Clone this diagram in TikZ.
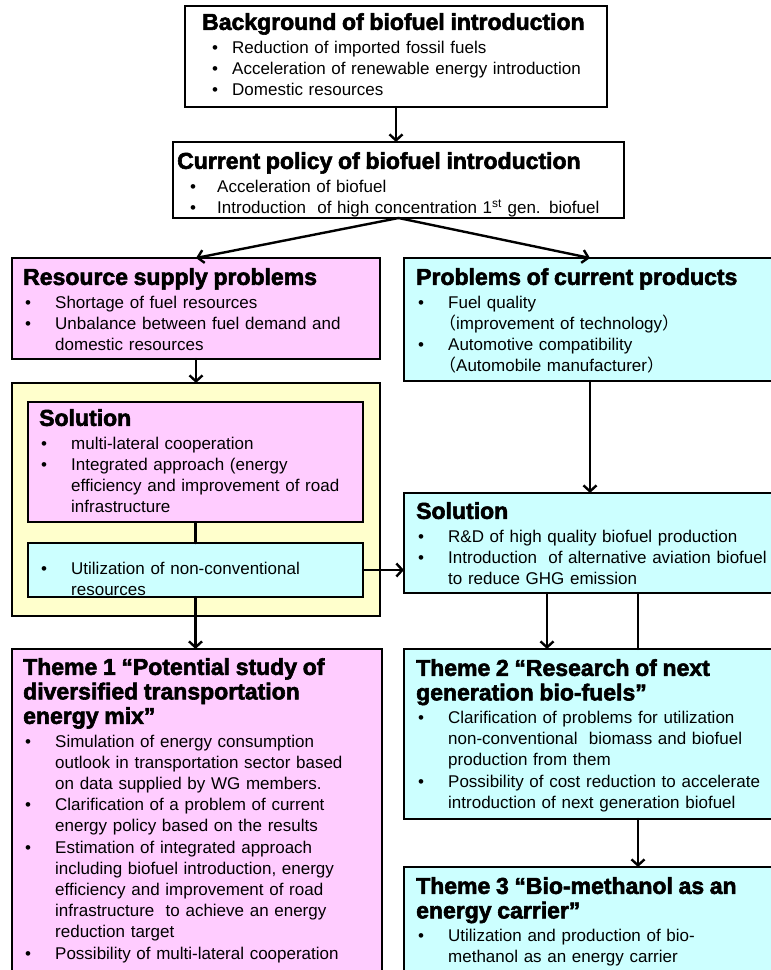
\documentclass[tikz,border=0pt]{standalone}
\usepackage{fontspec}
\setmainfont{Liberation Sans}
\newfontfamily\headfont[BoldFeatures={FakeBold=2.5}]{Liberation Sans}
\newfontfamily\cjk{Noto Sans CJK JP}
\usetikzlibrary{arrows.meta}

\definecolor{fenhong}{RGB}{255,204,255}
\definecolor{qingse}{RGB}{204,255,255}
\definecolor{danhuang}{RGB}{255,255,204}

\newcommand{\biaoti}[1]{{\headfont\bfseries\fontsize{23}{24.5}\selectfont #1\par}\vspace{2pt}}
\newcommand{\itm}[2][32pt]{\par\hangindent=#1\hangafter=1\noindent\makebox[#1][l]{\hspace{2pt}\textbullet}#2\par}
\newcommand{\kuohao}[1]{{\cjk\hspace*{-9pt}（}#1{\cjk ）}}

\begin{document}
\begin{tikzpicture}[x=1pt,y=-1pt,line cap=round]
	\tikzstyle{kuang}=[draw,line width=2.6pt,inner sep=0pt,outer sep=0pt,anchor=north west];
	\tikzstyle{bai}=[kuang,fill=white];
	\tikzstyle{fen}=[kuang,fill=fenhong];
	\tikzstyle{qing}=[kuang,fill=qingse];
	\tikzstyle{huang}=[kuang,fill=danhuang];
	\tikzstyle{wenzi}=[anchor=north west,inner sep=0pt,text width=600pt,align=left,font=\fontsize{17}{21.2}\selectfont];
	\tikzstyle{jian}=[line width=2.4pt,-{Straight Barb[length=6pt,width=13pt]}];
	\tikzstyle{xian}=[line width=2.4pt];

	\useasboundingbox (0,0) rectangle (771,970);

	% boxes
	\node[bai,minimum width=422pt,minimum height=101pt] (bg) at (185,6) {};
	\node[bai,minimum width=451pt,minimum height=76pt] (cp) at (173,142) {};
	\node[fen,minimum width=368pt,minimum height=101pt] (res) at (12,258) {};
	\node[qing,minimum width=372pt,minimum height=123pt] (prob) at (404,258) {};
	\node[huang,minimum width=368pt,minimum height=233pt] (yel) at (12,383) {};
	\node[fen,minimum width=335pt,minimum height=120pt] (sol1) at (28,402) {};
	\node[qing,minimum width=335pt,minimum height=54pt] (uti) at (28,543) {};
	\node[qing,minimum width=372pt,minimum height=100pt] (sol2) at (404,493) {};
	\node[fen,minimum width=370pt,minimum height=340pt] (th1) at (12,649) {};
	\node[qing,minimum width=372pt,minimum height=170pt] (th2) at (404,649) {};
	\node[qing,minimum width=372pt,minimum height=120pt] (th3) at (404,867) {};

	% texts
	\node[wenzi] (bgt) at (202,13) {\biaoti{Background of biofuel introduction}\leftskip=8pt
		\itm[22pt]{Reduction of imported fossil fuels}
		\itm[22pt]{Acceleration of renewable energy introduction}
		\itm[22pt]{Domestic resources}};
	\node[wenzi] (cpt) at (177,152) {\biaoti{Current policy of biofuel introduction}\leftskip=11pt
		\itm[29pt]{Acceleration of biofuel}
		\itm[29pt]{Introduction\ \ of high concentration 1\textsuperscript{st} gen. biofuel}};
	\node[wenzi] (rest) at (23,268) {\biaoti{Resource supply problems}
		\itm{Shortage of fuel resources}
		\itm{Unbalance between fuel demand and\newline domestic resources}};
	\node[wenzi] (probt) at (416,268) {\biaoti{Problems of current products}
		\itm{Fuel quality\newline \kuohao{improvement of technology}}
		\itm{Automotive compatibility\newline \kuohao{Automobile manufacturer}}};
	\node[wenzi] (sol1t) at (39,409) {\biaoti{Solution}
		\itm{multi-lateral cooperation}
		\itm{Integrated approach (energy\newline efficiency and improvement of road\newline infrastructure}};
	\node[wenzi] (utit) at (39,553) {\itm{Utilization of non-conventional\newline resources}};
	\node[wenzi] (sol2t) at (416,502) {\biaoti{Solution}
		\itm{R\&D of high quality biofuel production}
		\itm{Introduction\ \ of alternative aviation biofuel\newline to reduce GHG emission}};
	\node[wenzi] (th1t) at (23,658) {\biaoti{Theme 1 “Potential study of\\diversified transportation\\energy mix”}
		\itm{Simulation of energy consumption\newline outlook in transportation sector based\newline on data supplied by WG members.}
		\itm{Clarification of a problem of current\newline energy policy based on the results}
		\itm{Estimation of integrated approach\newline including biofuel introduction, energy\newline efficiency and improvement of road\newline infrastructure\ \ to achieve an energy\newline reduction target}
		\itm{Possibility of multi-lateral cooperation}};
	\node[wenzi] (th2t) at (416,659) {\biaoti{Theme 2 “Research of next\\generation bio-fuels”}
		\itm{Clarification of problems for utilization\newline non-conventional\ \ biomass and biofuel\newline production from them}
		\itm{Possibility of cost reduction to accelerate\newline introduction of next generation biofuel}};
	\node[wenzi] (th3t) at (416,877) {\biaoti{Theme 3 “Bio-methanol as an\\energy carrier”}
		\itm{Utilization and production of bio-\newline methanol as an energy carrier}};

	% arrows
	\draw[jian] (bg.south) -- (bg.south |- cp.north);
	\draw[jian] (cp.south) -- (res.north);
	\draw[jian] (cp.south) -- (prob.north);
	\draw[jian] (res.south) -- (yel.north);
	\draw[xian] (sol1.south) -- (uti.north);
	\draw[jian] (uti.south) -- (uti.south |- th1.north);
	\draw[jian] (uti.east) -- (sol2.west |- uti.east);
	\draw[jian] (prob.south) -- (sol2.north);
	\draw[jian] ([xshift=-43pt]sol2.south) -- ([xshift=-43pt]th2.north);
	\draw[xian] ([xshift=48pt]sol2.south) -- ([xshift=48pt]th2.north);
	\draw[jian] ([xshift=48pt]th2.south) -- ([xshift=48pt]th3.north);
\end{tikzpicture}
\end{document}
